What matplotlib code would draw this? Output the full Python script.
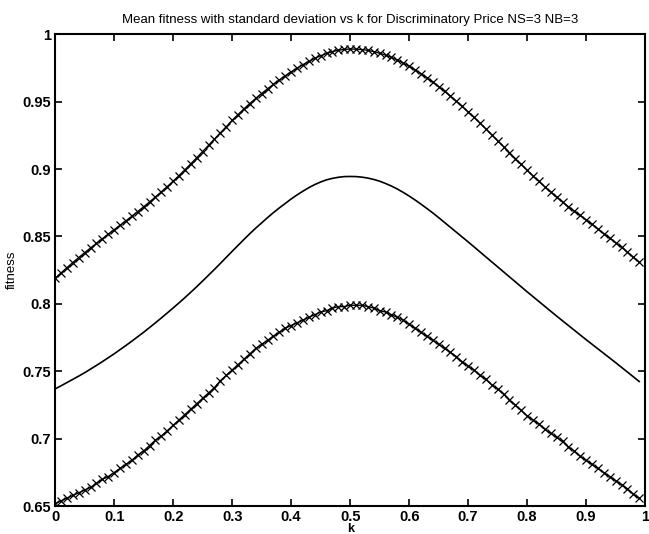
import matplotlib
matplotlib.use("Agg")
import matplotlib.pyplot as plt

# valeurs de k (0 a 0.99 pas de 0.01)
k = [i / 100 for i in range(100)]

# moyenne + ecart-type (courbe du haut)
upper = [0.8190, 0.8230, 0.8269, 0.8307, 0.8344, 0.8380, 0.8415, 0.8449, 0.8483, 0.8517,
         0.8550, 0.8583, 0.8616, 0.8650, 0.8685, 0.8720, 0.8756, 0.8793, 0.8831, 0.8870,
         0.8910, 0.8952, 0.8995, 0.9039, 0.9084, 0.9130, 0.9176, 0.9222, 0.9268, 0.9314,
         0.9360, 0.9404, 0.9446, 0.9486, 0.9524, 0.9560, 0.9595, 0.9628, 0.9660, 0.9691,
         0.9720, 0.9748, 0.9774, 0.9798, 0.9820, 0.9840, 0.9857, 0.9871, 0.9881, 0.9887,
         0.9890, 0.9889, 0.9886, 0.9880, 0.9871, 0.9859, 0.9845, 0.9828, 0.9808, 0.9786,
         0.9762, 0.9736, 0.9708, 0.9678, 0.9646, 0.9612, 0.9577, 0.9541, 0.9503, 0.9464,
         0.9424, 0.9383, 0.9341, 0.9298, 0.9254, 0.9210, 0.9166, 0.9122, 0.9078, 0.9034,
         0.8991, 0.8949, 0.8908, 0.8868, 0.8829, 0.8791, 0.8755, 0.8721, 0.8688, 0.8656,
         0.8624, 0.8590, 0.8556, 0.8522, 0.8488, 0.8454, 0.8420, 0.8384, 0.8347, 0.8310]

# fitness moyenne
mean = [0.7370, 0.7393, 0.7417, 0.7441, 0.7465, 0.7490, 0.7517, 0.7544, 0.7572, 0.7601,
        0.7630, 0.7661, 0.7692, 0.7724, 0.7757, 0.7790, 0.7825, 0.7860, 0.7896, 0.7933,
        0.7970, 0.8008, 0.8047, 0.8087, 0.8128, 0.8170, 0.8213, 0.8256, 0.8300, 0.8345,
        0.8390, 0.8434, 0.8478, 0.8521, 0.8562, 0.8601, 0.8640, 0.8677, 0.8712, 0.8745,
        0.8778, 0.8808, 0.8836, 0.8862, 0.8885, 0.8904, 0.8920, 0.8931, 0.8939, 0.8944,
        0.8945, 0.8944, 0.8940, 0.8933, 0.8923, 0.8910, 0.8893, 0.8874, 0.8852, 0.8827,
        0.8800, 0.8771, 0.8740, 0.8708, 0.8675, 0.8640, 0.8604, 0.8568, 0.8532, 0.8496,
        0.8460, 0.8423, 0.8386, 0.8349, 0.8312, 0.8275, 0.8238, 0.8201, 0.8164, 0.8127,
        0.8090, 0.8054, 0.8018, 0.7982, 0.7946, 0.7910, 0.7875, 0.7840, 0.7805, 0.7770,
        0.7735, 0.7701, 0.7667, 0.7633, 0.7599, 0.7565, 0.7530, 0.7495, 0.7460, 0.7425]

# moyenne - ecart-type (courbe du bas)
lower = [0.652, 0.654, 0.656, 0.658, 0.660, 0.662, 0.664, 0.667, 0.670, 0.672,
         0.675, 0.678, 0.681, 0.684, 0.688, 0.691, 0.695, 0.699, 0.702, 0.706,
         0.710, 0.714, 0.718, 0.722, 0.726, 0.730, 0.734, 0.738, 0.743, 0.747,
         0.751, 0.755, 0.759, 0.763, 0.767, 0.770, 0.773, 0.776, 0.779, 0.782,
         0.784, 0.786, 0.788, 0.790, 0.792, 0.794, 0.795, 0.797, 0.798, 0.798,
         0.799, 0.799, 0.799, 0.798, 0.797, 0.795, 0.794, 0.792, 0.790, 0.788,
         0.785, 0.782, 0.779, 0.776, 0.773, 0.770, 0.767, 0.764, 0.761, 0.757,
         0.754, 0.751, 0.747, 0.744, 0.740, 0.737, 0.733, 0.729, 0.725, 0.721,
         0.717, 0.714, 0.711, 0.707, 0.704, 0.701, 0.698, 0.694, 0.691, 0.687,
         0.684, 0.681, 0.678, 0.675, 0.672, 0.669, 0.666, 0.663, 0.659, 0.656]

xticks = [0, 0.1, 0.2, 0.3, 0.4, 0.5, 0.6, 0.7, 0.8, 0.9, 1]
xtick_labels = ['0', '0.1', '0.2', '0.3', '0.4', '0.5', '0.6', '0.7', '0.8', '0.9', '1']
yticks = [0.65, 0.7, 0.75, 0.8, 0.85, 0.9, 0.95, 1]
ytick_labels = ['0.65', '0.7', '0.75', '0.8', '0.85', '0.9', '0.95', '1']

plt.rcParams['font.family'] = ['Liberation Sans', 'DejaVu Sans']

fig = plt.figure(figsize=(6.49, 5.34), dpi=100)
ax = fig.add_axes([0.085, 0.052, 0.909, 0.884])

ax.plot(k, upper, color='black', linewidth=1.0, marker='x', markersize=5.5,
        markeredgewidth=0.9)
ax.plot(k, mean, color='black', linewidth=1.2)
ax.plot(k, lower, color='black', linewidth=1.0, marker='x', markersize=5.5,
        markeredgewidth=0.9)

ax.set_xlim(0, 1)
ax.set_ylim(0.65, 1)
ax.set_xticks(xticks)
ax.set_xticklabels(xtick_labels)
ax.set_yticks(yticks)
ax.set_yticklabels(ytick_labels)
ax.tick_params(direction='in', length=5, width=1.2, top=True, right=True,
               labelsize=10.5, pad=3)
for lab in ax.get_xticklabels() + ax.get_yticklabels():
    lab.set_fontweight('bold')
for sp in ax.spines.values():
    sp.set_linewidth(1.5)

ax.set_title('Mean fitness with standard deviation vs k for Discriminatory Price NS=3 NB=3',
             fontsize=9.5, pad=8)
ax.set_xlabel('k', fontsize=9, fontweight='bold', labelpad=-1)
ax.set_ylabel('fitness', fontsize=9.5, labelpad=3)

fig.savefig('out.png', dpi=100)
